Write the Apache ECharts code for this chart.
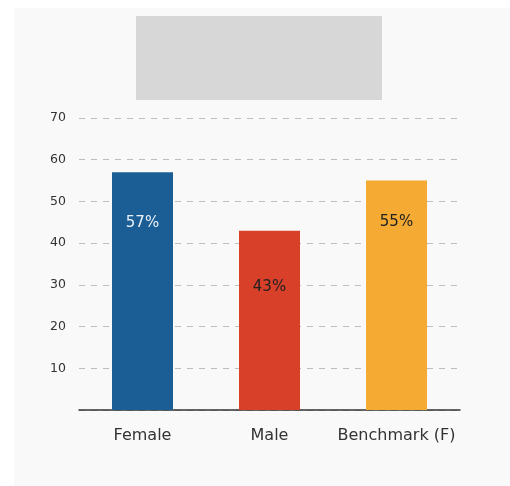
<!DOCTYPE html>
<html><head><meta charset="utf-8">
<script src="https://cdn.jsdelivr.net/npm/echarts@6/dist/echarts.min.js"></script>
<style>html,body{margin:0;padding:0;background:#fff}#c{width:510px;height:486px}</style>
</head><body><div id="c"></div>
<script>
var categories = ['Female', 'Male', 'Benchmark (F)'];
var values = [57, 43, 55];
var barColors = ['#1b5e95', '#d8402a', '#f4aa33'];
var labelColors = ['#e9f0f7', '#222222', '#222222'];
var labelOffsets = [51, 56, 42];
var yTicks = [10, 20, 30, 40, 50, 60, 70];

var chart = echarts.init(document.getElementById('c'), null, {renderer: 'canvas'});
var FONT = '"DejaVu Sans", "Noto Sans", sans-serif';
chart.setOption({
  animation: false,
  backgroundColor: '#ffffff',
  graphic: [
    {type: 'rect', z: -10, silent: true, shape: {x: 14, y: 8, width: 496, height: 478}, style: {fill: '#f9f9f9'}},
    {type: 'rect', z: -5, silent: true, shape: {x: 136, y: 16, width: 246, height: 84}, style: {fill: '#d7d7d7'}}
  ],
  grid: {left: 79, top: 118, width: 381, height: 292, containLabel: false},
  xAxis: {
    type: 'category',
    data: categories,
    axisLine: {show: true, lineStyle: {color: '#333', width: 1.5}},
    axisTick: {show: false},
    axisLabel: {color: '#333', fontSize: 16, fontFamily: FONT, margin: 18, interval: 0},
    splitLine: {show: false}
  },
  yAxis: {
    type: 'value',
    min: 0, max: 70, interval: 10,
    axisLine: {show: false},
    axisTick: {show: false},
    axisLabel: {
      color: '#333', fontSize: 12.5, fontFamily: FONT, margin: 13,
      formatter: function (v) { return yTicks.indexOf(v) >= 0 ? String(v) : ''; }
    },
    splitLine: {show: true, lineStyle: {color: '#bdbdbd', type: [6, 6], width: 1}}
  },
  series: [{
    type: 'bar',
    barWidth: 61,
    data: values.map(function (v, i) {
      return {
        value: v,
        itemStyle: {color: barColors[i]},
        label: {
          show: true,
          position: ['50%', labelOffsets[i]],
          align: 'center',
          verticalAlign: 'middle',
          color: labelColors[i],
          fontSize: 15,
          fontFamily: FONT,
          formatter: v + '%'
        }
      };
    })
  }]
});
</script>
</body></html>
